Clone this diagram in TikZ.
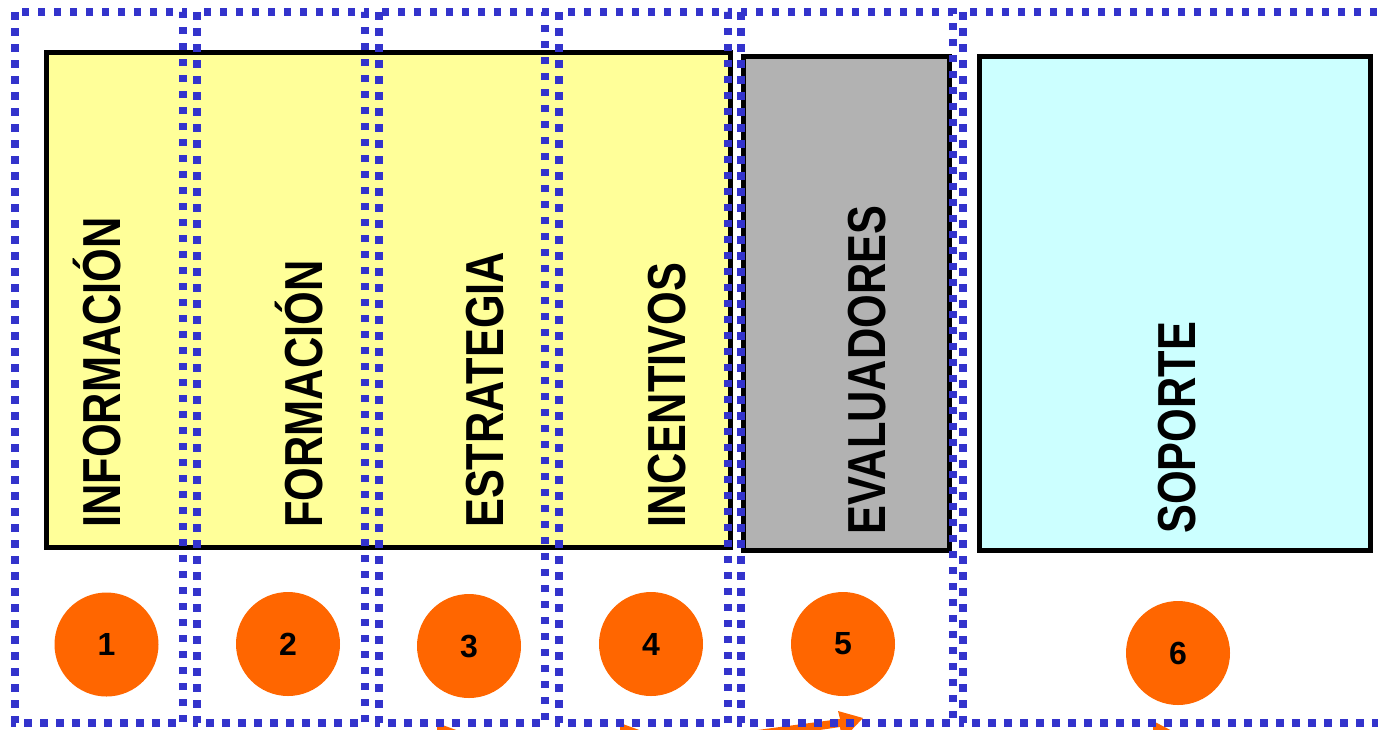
\documentclass[tikz,border=0pt]{standalone}
\usepackage{fontspec}
\setmainfont{Liberation Sans}
\definecolor{dotblue}{RGB}{51,51,204}
\definecolor{paleyellow}{RGB}{255,255,153}
\definecolor{midgray}{RGB}{178,178,178}
\definecolor{palecyan}{RGB}{204,255,255}
\definecolor{numorange}{RGB}{255,102,0}
\tikzset{
  panel/.style={draw=black,line width=5pt},
  dotframe/.style={draw=dotblue,line width=7.5pt,dash pattern=on 7.5pt off 8.5pt},
  vlabel/.style={rotate=90,anchor=base west,inner sep=0pt},
  numdisc/.style={circle,fill=numorange,minimum size=104pt,inner sep=0pt,
    font=\fontsize{32}{32}\selectfont\bfseries},
  orangebit/.style={fill=numorange}
}
\newcommand{\bigtxt}[1]{\scalebox{0.81}[1]{\fontsize{53.5}{53.5}\selectfont\bfseries #1}}
\begin{document}
\begin{tikzpicture}[x=1pt,y=-1pt]
\useasboundingbox (0,0) rectangle (1378,729);
\clip (0,0) rectangle (1378,729);
% orange arrow pieces peeking in at the bottom
\fill[orangebit] (437,723) -- (470,735) -- (437,735) -- cycle;
\fill[orangebit] (620,723) -- (653,735) -- (620,735) -- cycle;
\fill[orangebit] (750,731) -- (840,719) -- (838,711) -- (863,718) -- (842,740) -- (840,727) -- (752,740) -- cycle;
\fill[orangebit] (1153,721) -- (1182,736) -- (1153,736) -- cycle;
% panels
\draw[panel,fill=paleyellow] (46,52) rectangle (730,547);
\draw[panel,fill=midgray] (743,56) rectangle (949,550);
\draw[panel,fill=palecyan] (979.5,56) rectangle (1370,550);
% labels
\node[vlabel] (l1) at (120,528) {\bigtxt{INFORMACIÓN}};
\node[vlabel] (l2) at (322,528) {\bigtxt{FORMACIÓN}};
\node[vlabel] (l3) at (503,528) {\bigtxt{ESTRATEGIA}};
\node[vlabel] (l4) at (685,528) {\bigtxt{INCENTIVOS}};
\node[vlabel] (l5) at (885,535) {\bigtxt{EVALUADORES}};
\node[vlabel] (l6) at (1195,534) {\bigtxt{SOPORTE}};
% numbered discs
\node[numdisc] (n1) at (106.5,644.5) {1};
\node[numdisc] (n2) at (288,644) {2};
\node[numdisc] (n3) at (469,646) {3};
\node[numdisc] (n4) at (651,644) {4};
\node[numdisc] (n5) at (843,644) {5};
\node[numdisc] (n6) at (1178,653) {6};
% dotted frames
\draw[dotframe] (15,12) rectangle (183,723);
\draw[dotframe] (197,12) rectangle (365,723);
\draw[dotframe] (379,12) rectangle (545,723);
\draw[dotframe] (559,12) rectangle (728,723);
\draw[dotframe] (741,12) rectangle (953,723);
\draw[dotframe] (963,12) rectangle (1395,723);
\end{tikzpicture}
\end{document}
